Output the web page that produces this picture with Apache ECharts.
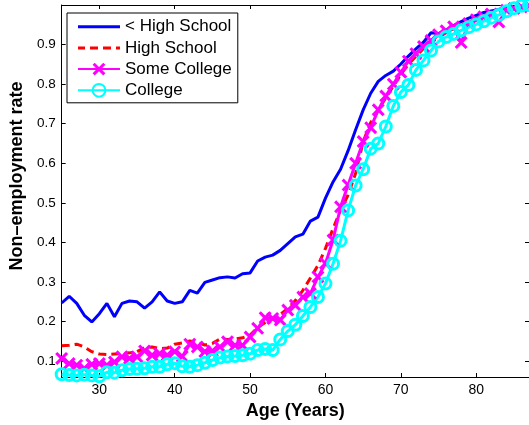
<!DOCTYPE html>
<html>
<head>
<meta charset="utf-8">
<script src="https://cdn.jsdelivr.net/npm/echarts@6/dist/echarts.min.js"></script>
<style>
html,body{margin:0;padding:0;background:#fff;}
#c{width:529px;height:425px;}
</style>
</head>
<body>
<div id="c"></div>
<script>
const ages = [];
for (let a = 25; a <= 87; a++) ages.push(a);

const lessHighSchool = [0.247,0.264,0.246,0.216,0.199,0.220,0.246,0.212,0.246,0.252,0.250,0.234,0.250,0.275,0.252,0.246,0.250,0.279,0.272,0.299,0.305,0.311,0.313,0.310,0.321,0.323,0.353,0.363,0.368,0.380,0.397,0.414,0.421,0.454,0.464,0.512,0.553,0.585,0.632,0.685,0.735,0.777,0.807,0.822,0.833,0.851,0.871,0.889,0.906,0.930,0.928,0.937,0.948,0.958,0.967,0.974,0.981,0.985,0.989,0.992,0.995,0.997,0.999];
const highSchool = [0.139,0.140,0.143,0.136,0.124,0.118,0.117,0.118,0.119,0.121,0.124,0.134,0.136,0.132,0.133,0.143,0.146,0.151,0.147,0.141,0.145,0.156,0.155,0.156,0.159,0.166,0.185,0.198,0.207,0.218,0.233,0.253,0.279,0.310,0.342,0.385,0.435,0.481,0.520,0.575,0.655,0.703,0.735,0.765,0.795,0.825,0.850,0.870,0.890,0.905,0.918,0.930,0.940,0.950,0.958,0.966,0.973,0.979,0.984,0.988,0.992,0.995,0.998];
const someCollege = [0.107,0.094,0.090,0.082,0.092,0.094,0.090,0.098,0.111,0.107,0.111,0.126,0.115,0.119,0.115,0.124,0.112,0.143,0.136,0.124,0.126,0.136,0.149,0.140,0.140,0.161,0.183,0.210,0.208,0.204,0.229,0.241,0.262,0.271,0.313,0.347,0.406,0.490,0.545,0.600,0.655,0.690,0.735,0.770,0.800,0.830,0.858,0.877,0.895,0.910,0.925,0.935,0.945,0.905,0.953,0.963,0.970,0.977,0.957,0.987,0.991,0.995,0.998];
const college = [0.067,0.065,0.064,0.066,0.064,0.062,0.072,0.071,0.077,0.080,0.081,0.082,0.086,0.086,0.092,0.095,0.087,0.086,0.090,0.096,0.103,0.109,0.112,0.113,0.115,0.119,0.128,0.131,0.128,0.155,0.176,0.192,0.214,0.237,0.262,0.296,0.346,0.404,0.481,0.544,0.585,0.637,0.650,0.693,0.745,0.780,0.798,0.836,0.860,0.885,0.908,0.919,0.927,0.936,0.944,0.951,0.959,0.968,0.975,0.984,0.992,0.998,1.000];

const xTicks = [30,40,50,60,70,80];
const yTicks = [0.1,0.2,0.3,0.4,0.5,0.6,0.7,0.8,0.9];
const seriesNames = ['< High School','High School','Some College','College'];

const FONT = '"Liberation Sans", Arial, Helvetica, sans-serif';
const xMin = 25, xMax = 87, yMin = 0.06, yMax = 1.0;

function pairs(vals){ return ages.map((a,i)=>[a, vals[i]]); }

const xMark = 'path://M2,0 L6,4 L10,0 L12,2 L8,6 L12,10 L10,12 L6,8 L2,12 L0,10 L4,6 L0,2 Z';
const solidIcon = 'path://M0,0 H42 V3 H0 Z';
const dashIcon = 'path://M0,0 H7 V3 H0 Z M12,0 H20 V3 H12 Z M25,0 H33 V3 H25 Z M38,0 H42 V3 H38 Z';

const axisLineStyle = {color:'#000', width:1};

const chart = echarts.init(document.getElementById('c'), null, {renderer:'canvas'});
chart.setOption({
  animation:false,
  backgroundColor:'#fff',
  textStyle:{fontFamily:FONT},
  grid:{left:60, right:-3, top:5, bottom:48, containLabel:false},
  legend:{
    orient:'vertical', left:67, top:13,
    backgroundColor:'#fff', borderColor:'#000', borderWidth:1,
    padding:[5.2,6,4,10],
    itemWidth:42, itemHeight:16, itemGap:4.2,
    textStyle:{fontSize:17, color:'#000', fontFamily:FONT, lineHeight:16},
    data:[
      {name:seriesNames[0], icon:solidIcon},
      {name:seriesNames[1], icon:dashIcon},
      {name:seriesNames[2]},
      {name:seriesNames[3]}
    ]
  },
  xAxis:[{
    type:'value', min:xMin, max:xMax, position:'bottom',
    name:'Age (Years)', nameLocation:'middle', nameGap:20,
    nameTextStyle:{fontSize:18, fontWeight:'bold', color:'#000', fontFamily:FONT},
    axisLine:{show:true, lineStyle:axisLineStyle},
    axisTick:{show:true, inside:true, length:4, customValues:xTicks, lineStyle:{color:'#000'}},
    axisLabel:{show:true, customValues:xTicks, fontSize:14, color:'#000', margin:6, fontFamily:FONT},
    splitLine:{show:false}
  },{
    type:'value', min:xMin, max:xMax, position:'top',
    axisLine:{show:true, lineStyle:axisLineStyle},
    axisTick:{show:true, inside:true, length:4, customValues:xTicks, lineStyle:{color:'#000'}},
    axisLabel:{show:false},
    splitLine:{show:false}
  }],
  yAxis:[{
    type:'value', min:yMin, max:yMax, position:'left',
    name:'Non\u2013employment rate', nameLocation:'middle', nameGap:33,
    nameTextStyle:{fontSize:18, fontWeight:'bold', color:'#000', fontFamily:FONT, padding:[0,0,0,30]},
    axisLine:{show:true, lineStyle:axisLineStyle},
    axisTick:{show:true, inside:true, length:4, customValues:yTicks, lineStyle:{color:'#000'}},
    axisLabel:{show:true, customValues:yTicks, fontSize:13.5, color:'#000', margin:6, fontFamily:FONT,
      formatter:(v)=>v.toFixed(1)},
    splitLine:{show:false}
  },{
    type:'value', min:yMin, max:yMax, position:'right',
    axisLine:{show:true, lineStyle:axisLineStyle},
    axisTick:{show:true, inside:true, length:4, customValues:yTicks, lineStyle:{color:'#000'}},
    axisLabel:{show:false},
    splitLine:{show:false}
  }],
  series:[
    {name:seriesNames[0], type:'line', data:pairs(lessHighSchool), showSymbol:false, symbol:'none',
     lineStyle:{color:'#0000ff', width:3}, itemStyle:{color:'#0000ff'}},
    {name:seriesNames[1], type:'line', data:pairs(highSchool), showSymbol:false, symbol:'none',
     lineStyle:{color:'#ff0000', width:3, type:[8,5]}, itemStyle:{color:'#ff0000'}},
    {name:seriesNames[2], type:'line', data:pairs(someCollege), symbol:xMark, symbolSize:13,
     lineStyle:{color:'#ff00ff', width:3}, itemStyle:{color:'#ff00ff'}},
    {name:seriesNames[3], type:'line', data:pairs(college), symbol:'circle', symbolSize:11,
     lineStyle:{color:'#00ffff', width:3}, itemStyle:{color:'rgba(0,0,0,0)', borderColor:'#00ffff', borderWidth:3}}
  ]
});
</script>
</body>
</html>
